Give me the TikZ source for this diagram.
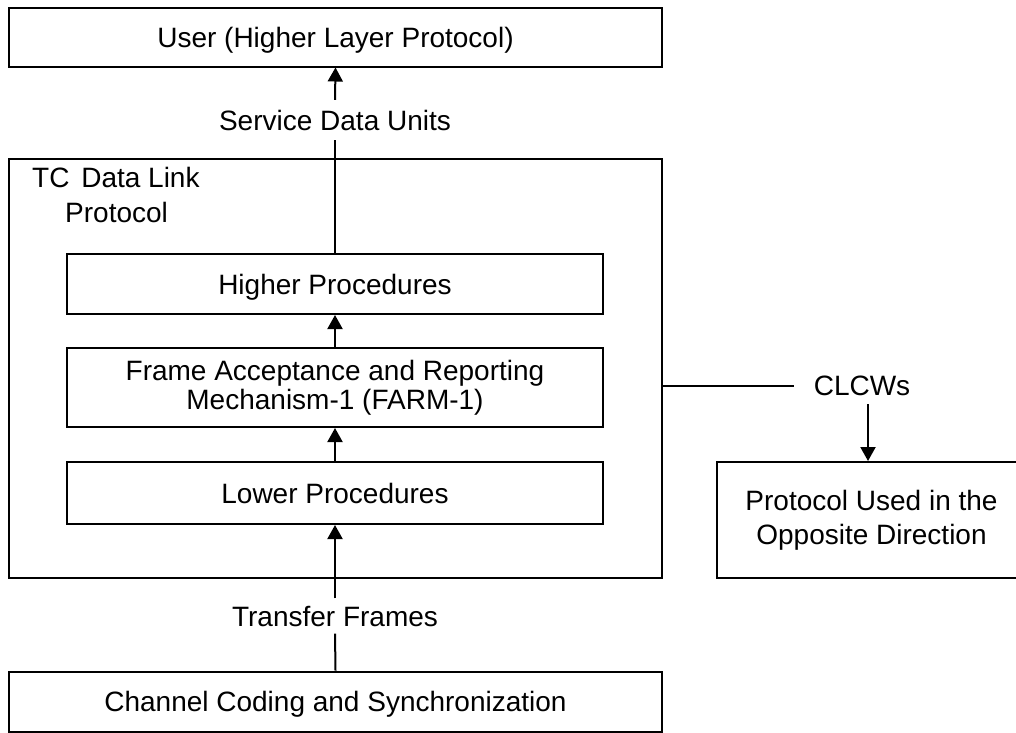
\documentclass[tikz,border=0pt]{standalone}
\usepackage{fontspec}
\setmainfont{Liberation Sans}
\usetikzlibrary{arrows.meta}
\begin{document}
\begin{tikzpicture}[x=1pt,y=-1pt,
  box/.style={draw=black,line width=2pt,inner sep=0pt,align=center},
  one/.style={text height=20pt,text depth=0pt},
  lbl/.style={inner sep=0pt,align=center},
  conn/.style={line width=2pt,-{Triangle[width=15pt,length=14pt]}},
  plain/.style={line width=2pt}]
\useasboundingbox (0,0) rectangle (1016,732);
\fontsize{28}{30}\selectfont
\node[box,one,minimum width=653,minimum height=59] (user) at (335.5,37) {User (Higher Layer Protocol)};
\node[box,minimum width=653,minimum height=419] (tc) at (335.5,368.5) {};
\node[lbl,one,anchor=west] (tcl1) at (32,177.5) {TC\hspace{4pt} Data Link};
\node[lbl,one,anchor=west] (tcl2) at (65,212.5) {Protocol};
\node[box,one,minimum width=536,minimum height=60] (higher) at (335,284) {Higher Procedures};
\node[box,minimum width=536,minimum height=79,font={\fontsize{28}{28.5}\selectfont}] (farm) at (335,387.5) {Frame Acceptance and Reporting\\Mechanism-1 (FARM-1)};
\node[box,one,minimum width=536,minimum height=62] (lower) at (335,493) {Lower Procedures};
\node[box,one,minimum width=653,minimum height=60] (chan) at (335.5,701.5) {Channel Coding and Synchronization};
\node[box,minimum width=309,minimum height=116,font={\fontsize{28}{34}\selectfont}] (opp) at (871.5,520) {Protocol Used in the\\Opposite Direction};
\node[lbl,one,inner ysep=10pt] (sdu) at (335,120) {Service Data Units};
\node[lbl,text height=21pt,text depth=0pt,inner ysep=7pt] (tf) at (335,616) {Transfer Frames};
\node[lbl,one,inner xsep=20pt,inner ysep=9pt] (clcw) at (862,385) {CLCWs};
\coordinate (tce) at (662,386);
% connectors
\draw[plain] (higher.north) -- (sdu.south);
\draw[conn] (sdu.north) -- (user.south);
\draw[conn] (farm.north) -- (higher.south);
\draw[conn] (lower.north) -- (farm.south);
\draw[plain] (chan.north) -- (tf.south);
\draw[conn] (tf.north) -- (lower.south);
\draw[plain] (tce) -- (clcw.west|-tce);
\draw[conn] ([xshift=-3.5pt]clcw.south-|opp.north) -- ([xshift=-3.5pt]opp.north);
\end{tikzpicture}
\end{document}
